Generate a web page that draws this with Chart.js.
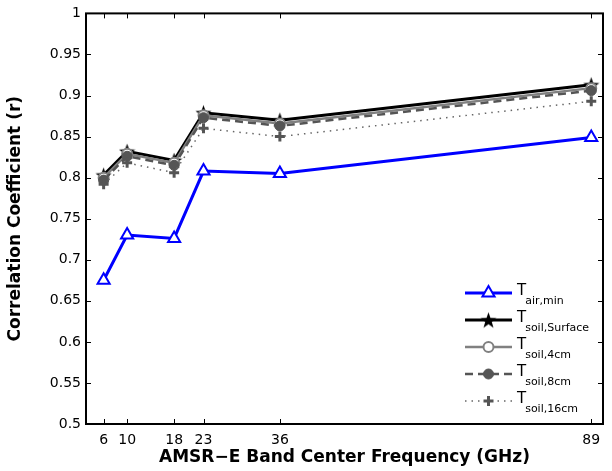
<!DOCTYPE html>
<html>
<head>
<meta charset="utf-8">
<title>Correlation vs AMSR-E frequency</title>
<script src="https://cdn.jsdelivr.net/npm/chart.js@4.4.0/dist/chart.umd.min.js"></script>
<style>
    html, body { margin: 0; padding: 0; background: #fff; }
</style>
</head>
<body>
<canvas id="corrChart" width="612" height="471"></canvas>
<script>
// values
const frequencies = [6, 10, 18, 23, 36, 89];
const tAirMin      = [0.675, 0.730, 0.726, 0.808, 0.805, 0.849];
const tSoilSurface = [0.803, 0.832, 0.821, 0.879, 0.870, 0.913];
const tSoil4cm     = [0.800, 0.829, 0.818, 0.876, 0.866, 0.909];
const tSoil8cm     = [0.797, 0.826, 0.815, 0.873, 0.863, 0.906];
const tSoil16cm    = [0.792, 0.818, 0.806, 0.860, 0.850, 0.893];
const yTicks = [0.5, 0.55, 0.6, 0.65, 0.7, 0.75, 0.8, 0.85, 0.9, 0.95, 1];
const yTickLabels = ['0.5', '0.55', '0.6', '0.65', '0.7', '0.75', '0.8', '0.85', '0.9', '0.95', '1'];
const legendNames = [
    ['T', 'air,min'],
    ['T', 'soil,Surface'],
    ['T', 'soil,4cm'],
    ['T', 'soil,8cm'],
    ['T', 'soil,16cm']
];

const FONT = '"DejaVu Sans", "Liberation Sans", Arial, sans-serif';

function toPoints(values) {
    return frequencies.map(function (f, i) { return { x: f, y: values[i] }; });
}

function makeStar(size, color) {
    const c = document.createElement('canvas');
    c.width = size;
    c.height = size;
    const g = c.getContext('2d');
    const r = size / 2;
    g.beginPath();
    for (let k = 0; k < 10; k++) {
        const rad = (k % 2) ? r * 0.4 : r;
        const a = -Math.PI / 2 + k * Math.PI / 5;
        g.lineTo(r + rad * Math.cos(a), r + rad * Math.sin(a) + 0.8);
    }
    g.closePath();
    g.fillStyle = color;
    g.fill();
    return c;
}

const starImg = makeStar(17, '#000');

// matlab style box with inward ticks
const boxPlugin = {
    id: 'matlabBox',
    afterDatasetsDraw(chart) {
        const ctx = chart.ctx;
        const a = chart.chartArea;
        const xs = chart.scales.x;
        const ys = chart.scales.y;
        const len = 5;
        ctx.save();
        ctx.strokeStyle = '#000';
        ctx.lineWidth = 1;
        ctx.beginPath();
        frequencies.forEach(function (f) {
            const px = Math.round(xs.getPixelForValue(f)) + 0.5;
            ctx.moveTo(px, a.bottom); ctx.lineTo(px, a.bottom - len);
            ctx.moveTo(px, a.top); ctx.lineTo(px, a.top + len);
        });
        yTicks.forEach(function (v) {
            const py = Math.round(ys.getPixelForValue(v)) + 0.5;
            ctx.moveTo(a.left, py); ctx.lineTo(a.left + len, py);
            ctx.moveTo(a.right, py); ctx.lineTo(a.right - len, py);
        });
        ctx.stroke();
        ctx.lineWidth = 2;
        ctx.strokeRect(a.left, a.top, a.right - a.left, a.bottom - a.top);
        ctx.restore();
    }
};

// legend with subscripts, drawn without a frame like the figure
const legendPlugin = {
    id: 'subLegend',
    afterDraw(chart) {
        const ctx = chart.ctx;
        const x1 = 465, x2 = 512, y0 = 293, step = 27;
        ctx.save();
        chart.data.datasets.forEach(function (ds, i) {
            const y = y0 + i * step;
            ctx.beginPath();
            ctx.setLineDash(ds.borderDash || []);
            ctx.strokeStyle = ds.borderColor;
            ctx.lineWidth = ds.borderWidth;
            ctx.moveTo(x1, y);
            ctx.lineTo(x2, y);
            ctx.stroke();
            ctx.setLineDash([]);
            ctx.fillStyle = ds.pointBackgroundColor;
            ctx.strokeStyle = ds.pointBorderColor;
            ctx.lineWidth = ds.pointBorderWidth;
            Chart.helpers.drawPoint(ctx, {
                pointStyle: ds.pointStyle,
                radius: ds.pointRadius,
                borderWidth: ds.pointBorderWidth,
                rotation: 0
            }, (x1 + x2) / 2, y);

            ctx.fillStyle = '#000';
            ctx.textBaseline = 'alphabetic';
            ctx.textAlign = 'left';
            ctx.font = '15px ' + FONT;
            ctx.fillText(legendNames[i][0], 517, y + 2);
            const w = ctx.measureText(legendNames[i][0]).width;
            ctx.font = '11px ' + FONT;
            ctx.fillText(legendNames[i][1], 517 + w - 1, y + 11);
        });
        ctx.restore();
    }
};

const ctx = document.getElementById('corrChart').getContext('2d');
const corrChart = new Chart(ctx, {
    type: 'line',
    data: {
        datasets: [{
            label: 'T air,min',
            data: toPoints(tAirMin),
            borderColor: '#0000ff',
            borderWidth: 3,
            pointStyle: 'triangle',
            pointRadius: 7,
            pointBorderWidth: 2,
            pointBackgroundColor: '#ffffff',
            pointBorderColor: '#0000ff',
            order: 4
        }, {
            label: 'T soil,Surface',
            data: toPoints(tSoilSurface),
            borderColor: '#000000',
            borderWidth: 3,
            pointStyle: starImg,
            pointRadius: 8,
            pointBorderWidth: 0,
            pointBackgroundColor: '#000000',
            pointBorderColor: '#000000',
            order: 3
        }, {
            label: 'T soil,4cm',
            data: toPoints(tSoil4cm),
            borderColor: '#808080',
            borderWidth: 2.5,
            pointStyle: 'circle',
            pointRadius: 5,
            pointBorderWidth: 2,
            pointBackgroundColor: '#ffffff',
            pointBorderColor: '#808080',
            order: 2
        }, {
            label: 'T soil,8cm',
            data: toPoints(tSoil8cm),
            borderColor: '#555555',
            borderWidth: 2.5,
            borderDash: [8, 5],
            pointStyle: 'circle',
            pointRadius: 5,
            pointBorderWidth: 1,
            pointBackgroundColor: '#555555',
            pointBorderColor: '#555555',
            order: 1
        }, {
            label: 'T soil,16cm',
            data: toPoints(tSoil16cm),
            borderColor: '#666666',
            borderWidth: 1.5,
            borderDash: [1.5, 5],
            pointStyle: 'cross',
            pointRadius: 5,
            pointBorderWidth: 3,
            pointBackgroundColor: '#555555',
            pointBorderColor: '#555555',
            order: 0
        }]
    },
    options: {
        responsive: false,
        animation: false,
        devicePixelRatio: 1,
        layout: { padding: { left: 0, right: 5, top: 13, bottom: 0 } },
        plugins: {
            legend: { display: false },
            tooltip: { enabled: false }
        },
        elements: { line: { tension: 0 } },
        scales: {
            x: {
                type: 'linear',
                min: 3,
                max: 91,
                afterBuildTicks: function (scale) {
                    scale.ticks = frequencies.map(function (f) { return { value: f }; });
                },
                afterFit: function (scale) { scale.height = 47; },
                grid: { display: false, drawTicks: false },
                border: { display: false },
                ticks: {
                    color: '#000',
                    padding: 8,
                    autoSkip: false,
                    maxRotation: 0,
                    font: { family: FONT, size: 14 },
                    callback: function (v) { return String(v); }
                },
                title: {
                    display: true,
                    text: 'AMSR\u2212E Band Center Frequency (GHz)',
                    color: '#000',
                    padding: { top: 0, bottom: 3 },
                    font: { family: FONT, size: 17, weight: 'bold' }
                }
            },
            y: {
                min: 0.5,
                max: 1,
                afterBuildTicks: function (scale) {
                    scale.ticks = yTicks.map(function (v) { return { value: v }; });
                },
                afterFit: function (scale) { scale.width = 86; },
                grid: { display: false, drawTicks: false },
                border: { display: false },
                ticks: {
                    color: '#000',
                    padding: 5,
                    font: { family: FONT, size: 14 },
                    callback: function (v, i) { return yTickLabels[i]; }
                },
                title: {
                    display: true,
                    text: 'Correlation Coefficient (r)',
                    color: '#000',
                    padding: { top: 5, bottom: 0 },
                    font: { family: FONT, size: 17, weight: 'bold' }
                }
            }
        }
    },
    plugins: [boxPlugin, legendPlugin]
});
</script>
</body>
</html>
